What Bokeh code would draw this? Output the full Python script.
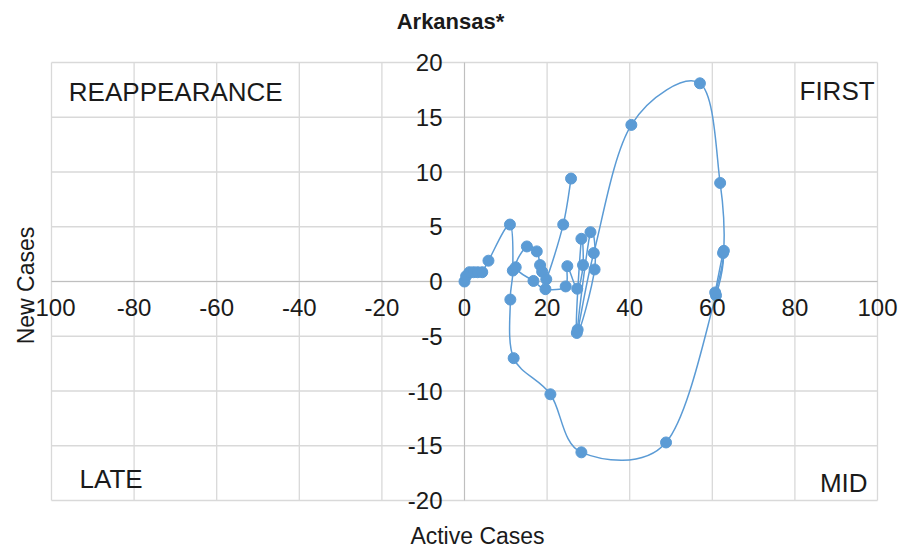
import numpy as np
from math import pi
from bokeh.plotting import figure
from bokeh.models import Label, LabelSet, ColumnDataSource
from bokeh.core.properties import value
from bokeh.embed import file_html
from bokeh.resources import INLINE

# ---- data ----
active_cases = [0, 0.4, 1.2, 2.2, 3.2, 4.3, 5.8, 11.0, 11.7, 11.1, 11.9, 20.8, 28.3, 48.8,
                60.9, 62.6, 60.7, 62.8, 61.9, 57.0, 40.4, 31.3, 27.4, 30.5, 31.5, 27.2,
                28.3, 28.7, 27.3, 24.9, 24.5, 19.6, 16.7, 12.4, 15.1, 17.5, 18.3, 18.8,
                19.8, 23.9, 25.8]
new_cases = [0, 0.5, 0.85, 0.85, 0.85, 0.85, 1.9, 5.2, 1.0, -1.65, -7.0, -10.3, -15.6, -14.7,
             -1.27, 2.6, -1.0, 2.8, 9.0, 18.1, 14.3, 2.6, -4.4, 4.5, 1.1, -4.7,
             3.9, 1.5, -0.66, 1.4, -0.45, -0.7, 0.05, 1.3, 3.2, 2.75, 1.5, 0.9,
             0.2, 5.2, 9.4]

x_ticks = [-100, -80, -60, -40, -20, 0, 20, 40, 60, 80, 100]
y_ticks = [-20, -15, -10, -5, 0, 5, 10, 15, 20]

quadrants = ["REAPPEARANCE", "FIRST", "LATE", "MID"]
title_text = "Arkansas*"
x_title = "Active Cases"
y_title = "New Cases"

BLUE = "#5B9BD5"
FONT = "Liberation Sans"
TXT = "#1a1a1a"
GRID = "#d9d9d9"
AXIS = "#bfbfbf"

# ---- layout: the frame covers the whole canvas so no text is clipped ----
W, H = 902, 547
PL, PR, PT, PB = 51, 877, 62, 500          # plot-area edges in pixels
XMIN, XMAX = x_ticks[0], x_ticks[-1]
YMIN, YMAX = y_ticks[0], y_ticks[-1]
kx = (XMAX - XMIN) / (PR - PL)
ky = (YMAX - YMIN) / (PB - PT)
x_range = (XMIN - PL * kx, XMIN + (W - PL) * kx)
y_range = (YMAX - (H - PT) * ky, YMAX + PT * ky)

p = figure(width=W, height=H, x_range=x_range, y_range=y_range,
           output_backend="svg", toolbar_location=None, min_border=0,
           min_border_left=0, min_border_right=0, min_border_top=0, min_border_bottom=0)
p.axis.visible = False
p.grid.visible = False
p.outline_line_color = None

# grid lines (from the tick arrays)
p.segment(x0=x_ticks, y0=[YMIN] * len(x_ticks), x1=x_ticks, y1=[YMAX] * len(x_ticks),
          line_color=GRID, line_width=1.3)
p.segment(x0=[XMIN] * len(y_ticks), y0=y_ticks, x1=[XMAX] * len(y_ticks), y1=y_ticks,
          line_color=GRID, line_width=1.3)
# axis lines crossing at (0, 0)
p.segment(x0=[0, XMIN], y0=[YMIN, 0], x1=[0, XMAX], y1=[YMAX, 0], line_color=AXIS, line_width=1)

# tick labels
xsrc = ColumnDataSource(dict(x=x_ticks, y=[0] * len(x_ticks), t=[str(v) for v in x_ticks]))
ysrc = ColumnDataSource(dict(x=[0] * len(y_ticks), y=y_ticks, t=[str(v) for v in y_ticks]))
p.add_layout(LabelSet(x="x", y="y", text="t", source=xsrc, y_offset=-17,
                      text_align="center", text_baseline="top",
                      text_font=value(FONT), text_font_size=value("24px"), text_color=TXT))
p.add_layout(LabelSet(x="x", y="y", text="t", source=ysrc, x_offset=-22,
                      text_align="right", text_baseline="middle",
                      text_font=value(FONT), text_font_size=value("24px"), text_color=TXT))

# smoothed line (cubic Bezier through the points, Excel-like)
xs = np.array(active_cases, dtype=float)
ys = np.array(new_cases, dtype=float)
n = len(xs)
x0, y0, x1, y1, cx0, cy0, cx1, cy1 = ([] for _ in range(8))
for i in range(n - 1):
    a = i - 1 if i > 0 else i
    d = i + 2 if i + 2 < n else i + 1
    x0.append(xs[i]); y0.append(ys[i]); x1.append(xs[i + 1]); y1.append(ys[i + 1])
    cx0.append(xs[i] + (xs[i + 1] - xs[a]) / 6.0)
    cy0.append(ys[i] + (ys[i + 1] - ys[a]) / 6.0)
    cx1.append(xs[i + 1] - (xs[d] - xs[i]) / 6.0)
    cy1.append(ys[i + 1] - (ys[d] - ys[i]) / 6.0)
bsrc = ColumnDataSource(dict(x0=x0, y0=y0, x1=x1, y1=y1, cx0=cx0, cy0=cy0, cx1=cx1, cy1=cy1))
p.bezier(x0="x0", y0="y0", x1="x1", y1="y1", cx0="cx0", cy0="cy0", cx1="cx1", cy1="cy1",
         source=bsrc, line_color=BLUE, line_width=1.5)

p.scatter(active_cases, new_cases, size=11, fill_color=BLUE, line_color=BLUE)

# quadrant labels
qpos = [(-95.8, 17.3, "left"), (99.3, 17.4, "right"), (-93.2, -18.05, "left"), (97.6, -18.4, "right")]
for name, (qx, qy, al) in zip(quadrants, qpos):
    p.add_layout(Label(x=qx, y=qy, text=name, text_align=al, text_baseline="middle",
                       text_font=FONT, text_font_size="26px", text_color=TXT))

# chart title and axis titles (screen units, y measured up from the bottom)
p.add_layout(Label(x=450, y=H - 21, x_units="screen", y_units="screen", text=title_text,
                   text_align="center", text_baseline="middle", text_font=FONT,
                   text_font_size="22px", text_font_style="bold", text_color=TXT))
p.add_layout(Label(x=477, y=H - 535, x_units="screen", y_units="screen", text=x_title,
                   text_align="center", text_baseline="middle", text_font=FONT,
                   text_font_size="23px", text_color=TXT))
p.add_layout(Label(x=25, y=H - 285, x_units="screen", y_units="screen", text=y_title,
                   angle=pi / 2, text_align="center", text_baseline="middle", text_font=FONT,
                   text_font_size="23px", text_color=TXT))

open("out.html", "w").write(file_html(p, INLINE))
